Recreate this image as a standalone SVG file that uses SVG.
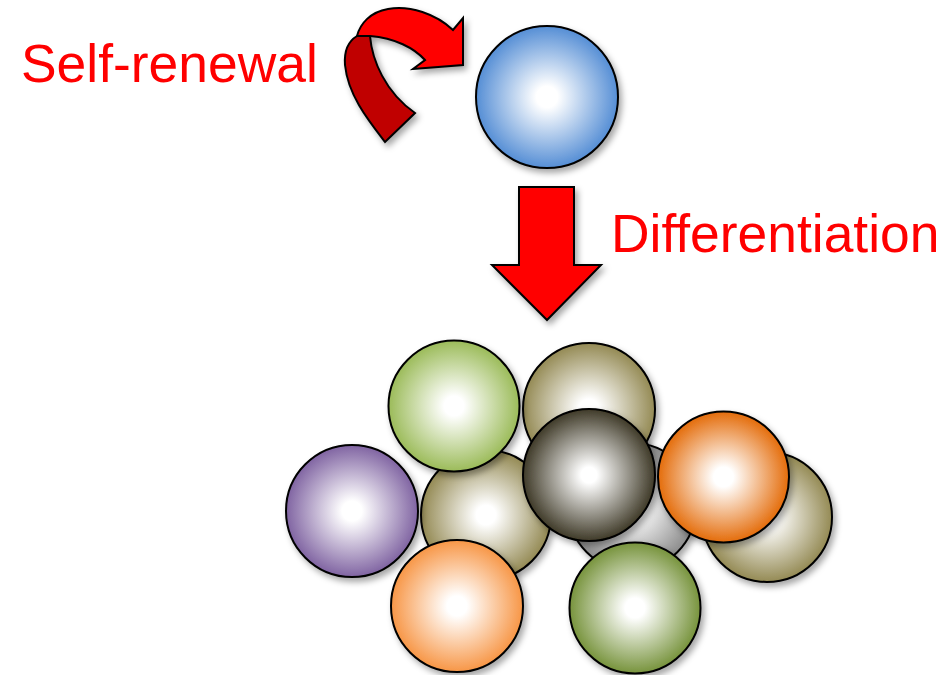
<svg xmlns="http://www.w3.org/2000/svg" width="946" height="675" viewBox="0 0 946 675">
  <defs>
    <filter id="shadow" x="-20%" y="-20%" width="150%" height="150%">
      <feDropShadow dx="3" dy="4" stdDeviation="3" flood-color="#000" flood-opacity="0.35"/>
    </filter>
    <radialGradient id="gBlue"><stop offset="0" stop-color="#fff"/><stop offset="0.15" stop-color="#fff"/><stop offset="1" stop-color="#558ED5"/></radialGradient>
    <radialGradient id="gGreen"><stop offset="0" stop-color="#fff"/><stop offset="0.15" stop-color="#fff"/><stop offset="1" stop-color="#9BBB59"/></radialGradient>
    <radialGradient id="gTan"><stop offset="0" stop-color="#fff"/><stop offset="0.15" stop-color="#fff"/><stop offset="1" stop-color="#948A54"/></radialGradient>
    <radialGradient id="gDark"><stop offset="0" stop-color="#fff"/><stop offset="0.12" stop-color="#fff"/><stop offset="1" stop-color="#3F3A28"/></radialGradient>
    <radialGradient id="gRedOrange"><stop offset="0" stop-color="#fff"/><stop offset="0.15" stop-color="#fff"/><stop offset="1" stop-color="#E46C0A"/></radialGradient>
    <radialGradient id="gPurple"><stop offset="0" stop-color="#fff"/><stop offset="0.15" stop-color="#fff"/><stop offset="1" stop-color="#8064A2"/></radialGradient>
    <radialGradient id="gGray"><stop offset="0" stop-color="#fff"/><stop offset="0.15" stop-color="#fff"/><stop offset="1" stop-color="#8C8C8C"/></radialGradient>
    <radialGradient id="gOrange"><stop offset="0" stop-color="#fff"/><stop offset="0.15" stop-color="#fff"/><stop offset="1" stop-color="#F79646"/></radialGradient>
    <radialGradient id="gOlive"><stop offset="0" stop-color="#fff"/><stop offset="0.15" stop-color="#fff"/><stop offset="1" stop-color="#77933C"/></radialGradient>
  </defs>
  <style>
    .cell { stroke: #000; stroke-width: 2; filter: url(#shadow); }
    .arrow { stroke: #000; stroke-width: 2; stroke-linejoin: miter; }
    .label { font-family: "Liberation Sans", Arial, sans-serif; font-size: 53.4px; fill: #FF0000; }
  </style>

  <!-- labels -->
  <text class="label" x="21" y="82">Self-renewal</text>
  <text class="label" x="611" y="252">Differentiation</text>

  <!-- connectors -->
  <g id="connectors">
    <g id="self-renewal-arrow" filter="url(#shadow)">
      <!-- back side of the ribbon (tail) -->
      <path class="arrow" fill="#C00000" d="M385,142 C368,120 348,95 345,65 C344,52 347,42 357,36 L370,36 C372,60 385,92 415,113 Z"/>
      <!-- front side of the ribbon with the head -->
      <path class="arrow" fill="#FF0000" d="M357,36 C360,24 370,12 388,9 C410,5 436,14 453,30 L463,18 L463,65 L413,69 L425,60 C414,48 395,38 370,36 Z"/>
    </g>
    <g id="differentiation-arrow" filter="url(#shadow)">
      <path class="arrow" fill="#FF0000" d="M519,187 L574,187 L574,265 L601,265 L547,320 L492,265 L519,265 Z"/>
    </g>
  </g>

  <!-- stem cell -->
  <g id="stem-cell"><circle class="cell" cx="547" cy="97" r="71" fill="url(#gBlue)"/></g>

  <!-- differentiated cells, back to front -->
  <g id="cell-tan-top"><circle class="cell" cx="589" cy="409" r="66" fill="url(#gTan)"/></g>
  <g id="cell-tan-left"><circle class="cell" cx="486" cy="515" r="65" fill="url(#gTan)"/></g>
  <g id="cell-gray"><circle class="cell" cx="632" cy="507" r="64" fill="url(#gGray)"/></g>
  <g id="cell-tan-right"><circle class="cell" cx="767" cy="517" r="65" fill="url(#gTan)"/></g>
  <g id="cell-green"><circle class="cell" cx="454" cy="406" r="65.5" fill="url(#gGreen)"/></g>
  <g id="cell-purple"><circle class="cell" cx="352" cy="511" r="66" fill="url(#gPurple)"/></g>
  <g id="cell-dark"><circle class="cell" cx="589" cy="475" r="66" fill="url(#gDark)"/></g>
  <g id="cell-red-orange"><circle class="cell" cx="723.5" cy="477" r="65.5" fill="url(#gRedOrange)"/></g>
  <g id="cell-orange"><circle class="cell" cx="457" cy="606" r="66" fill="url(#gOrange)"/></g>
  <g id="cell-olive"><circle class="cell" cx="635" cy="608" r="65.5" fill="url(#gOlive)"/></g>
</svg>
